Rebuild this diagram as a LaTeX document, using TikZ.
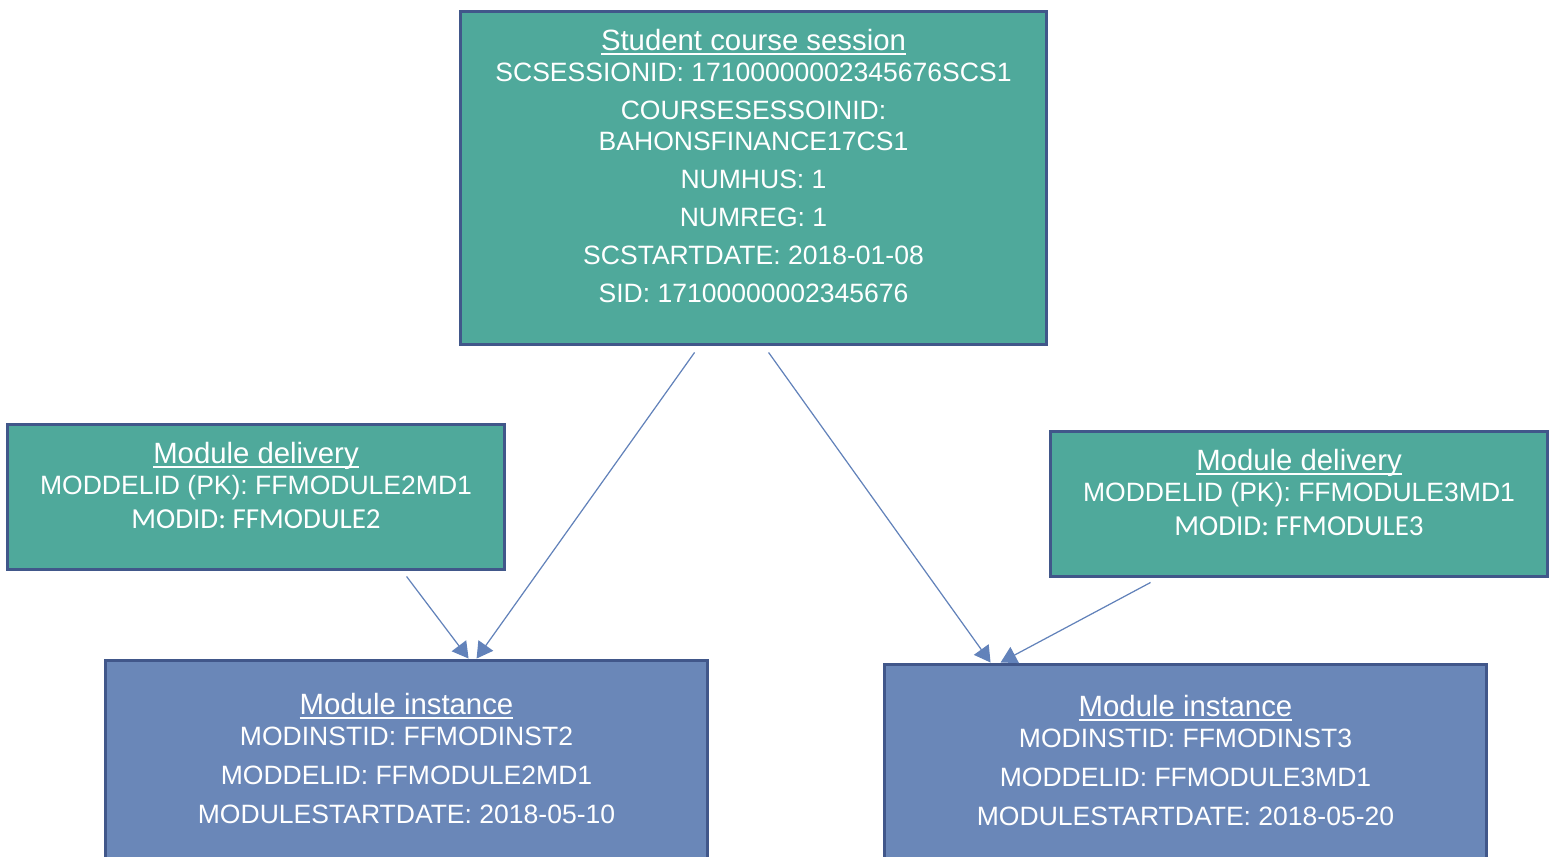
\documentclass[tikz,border=0pt]{standalone}
\usepackage{fontspec}
\setmainfont{Liberation Sans}
\newfontfamily\calib{Carlito}
\usetikzlibrary{arrows.meta,calc}

\definecolor{teal}{HTML}{4FA99B}
\definecolor{inst}{HTML}{6A87B8}
\definecolor{edge}{HTML}{41578A}
\definecolor{link}{HTML}{6282BA}

\newcommand{\titleline}[1]{\setbox0\hbox{\fontsize{16.7pt}{17.6pt}\selectfont #1}\rlap{\rule[-2.4pt]{\wd0}{0.9pt}}\box0}

\begin{document}
\begin{tikzpicture}[x=0.02cm, y=-0.02cm,
	box/.style = {draw=edge, line width=1.7pt, inner sep=0pt},
	txt/.style = {text=white, align=center, inner sep=0pt, anchor=north,
		font=\fontsize{15.1pt}{17.6pt}\selectfont},
	arr/.style = {draw=link, line width=0.7pt, -{Triangle[length=3.2mm,width=3.6mm]}}]

	\useasboundingbox (0,0) rectangle (1550,857);

	% boxes
	\node[box, fill=teal, minimum width=11.74cm, minimum height=6.68cm] (scs) at (753.5,178) {};
	\node[box, fill=teal, minimum width=9.96cm, minimum height=2.92cm] (md2) at (256,497) {};
	\node[box, fill=teal, minimum width=9.96cm, minimum height=2.92cm] (md3) at (1299,504) {};
	\node[box, fill=inst, minimum width=12.06cm, minimum height=4.4cm] (mi2) at (406.5,770) {};
	\node[box, fill=inst, minimum width=12.06cm, minimum height=4.4cm] (mi3) at (1185.5,774) {};

	% texts
	\node[txt] (scstxt) at (753.5,29) {\titleline{Student course session}\\
		SCSESSIONID: 17100000002345676SCS1\\[4pt]
		COURSESESSOINID:\\
		BAHONSFINANCE17CS1\\[4pt]
		NUMHUS: 1\\[4pt]
		NUMREG: 1\\[4pt]
		SCSTARTDATE: 2018-01-08\\[4pt]
		SID: 17100000002345676};
	\node[txt] (md2txt) at (256,442) {\titleline{Module delivery}\\
		MODDELID (PK): FFMODULE2MD1\\[1.5pt]
		{\calib\fontsize{16.5pt}{17.6pt}\selectfont MODID: FFMODULE2}};
	\node[txt] (md3txt) at (1299,449) {\titleline{Module delivery}\\
		MODDELID (PK): FFMODULE3MD1\\[1.5pt]
		{\calib\fontsize{16.5pt}{17.6pt}\selectfont MODID: FFMODULE3}};
	\node[txt] (mi2txt) at (406.5,693) {\titleline{Module instance}\\
		MODINSTID: FFMODINST2\\[4.6pt]
		MODDELID: FFMODULE2MD1\\[4.6pt]
		MODULESTARTDATE: 2018-05-10};
	\node[txt] (mi3txt) at (1185.5,695) {\titleline{Module instance}\\
		MODINSTID: FFMODINST3\\[4.6pt]
		MODDELID: FFMODULE3MD1\\[4.6pt]
		MODULESTARTDATE: 2018-05-20};

	% arrow ends
	\coordinate (t1) at ($(scs.south west)+(236,6)$);
	\coordinate (t2) at ($(scs.south west)+(310,6)$);
	\coordinate (t3) at ($(md2.south west)+(401,5)$);
	\coordinate (t4) at ($(md3.south west)+(102,4)$);
	\coordinate (h1) at ($(mi2.north west)+(373,0)$);
	\coordinate (h3) at ($(mi2.north west)+(365,0)$);
	\coordinate (h2) at ($(mi3.north west)+(108,0)$);
	\coordinate (h4) at ($(mi3.north west)+(118,0)$);

	\draw[arr] (t1) -- (h1);
	\draw[arr] (t3) -- (h3);
	\draw[arr] (t2) -- (h2);
	\draw[arr] (t4) -- (h4);
\end{tikzpicture}
\end{document}
